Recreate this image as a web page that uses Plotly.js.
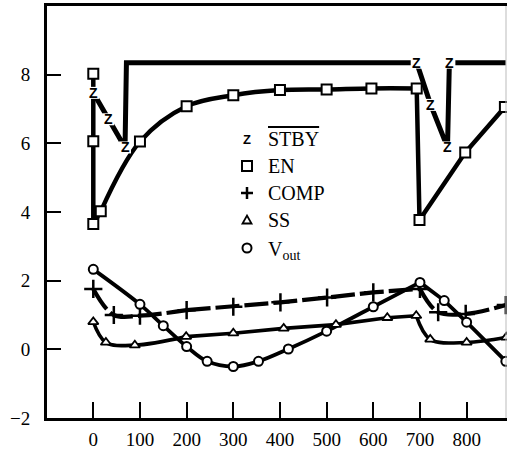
<!DOCTYPE html>
<html>
<head>
<meta charset="utf-8">
<script src="https://cdn.plot.ly/plotly-3.0.1.min.js"></script>
<style>html,body{margin:0;padding:0;background:#fff;}#chart{width:507px;height:452px;}</style>
</head>
<body>
<div id="chart"></div>
<script>
// ---- data ----
const xTickVals = [0, 100, 200, 300, 400, 500, 600, 700, 800];
const yTickVals = [-2, 0, 2, 4, 6, 8];
const yTickText = ['\u22122', '0', '2', '4', '6', '8'];

const stbyX = [0, 32, 68, 71, 693, 723, 759, 763, 884];
const stbyY = [7.47, 6.70, 5.88, 8.35, 8.35, 7.12, 5.88, 8.35, 8.35];
const stbyMarkIdx = [0, 1, 2, 4, 5, 6, 7];

const enX = [0, 0, 0, 16, 100, 200, 300, 400, 500, 596, 693, 699, 797, 882];
const enY = [8.03, 6.06, 3.65, 4.02, 6.05, 7.08, 7.40, 7.55, 7.57, 7.60, 7.60, 3.77, 5.73, 7.06];

const compX = [0, 44, 100, 200, 300, 401, 501, 600, 700, 739, 798, 884];
const compY = [1.76, 1.00, 0.98, 1.14, 1.24, 1.37, 1.51, 1.66, 1.76, 1.08, 1.03, 1.29];

const ssX = [0, 27, 89, 199, 300, 408, 520, 630, 692, 722, 800, 885];
const ssY = [0.80, 0.20, 0.12, 0.37, 0.47, 0.61, 0.72, 0.92, 0.98, 0.29, 0.20, 0.35];

const voutX = [0, 100, 150, 200, 244, 300, 354, 418, 500, 600, 700, 752, 800, 884];
const voutY = [2.33, 1.31, 0.69, 0.08, -0.35, -0.50, -0.35, 0.01, 0.53, 1.24, 1.95, 1.42, 0.79, -0.35];

const legendNames = ['<span style="text-decoration:overline">STBY</span>', 'EN', 'COMP', 'SS', 'V<sub>out</sub>'];

// ---- rendering ----
const SERIF = 'Liberation Serif, Times New Roman, serif';
const SANS = 'Liberation Sans, Arial, sans-serif';
const traces = [];
function addLine(x, y, segs, line) {
  segs.forEach(s => {
    traces.push({
      x: x.slice(s[0], s[1] + 1), y: y.slice(s[0], s[1] + 1),
      type: 'scatter', mode: 'lines', showlegend: false, hoverinfo: 'skip',
      line: Object.assign({color: '#000', shape: s[2], smoothing: 1}, line)
    });
  });
}
addLine(stbyX, stbyY, [[0, stbyX.length - 1, 'linear']], {width: 5});
addLine(enX, enY, [[0, 3, 'linear'], [3, 10, 'spline'], [10, 13, 'linear']], {width: 4.5});
addLine(compX, compY, [[0, 3, 'spline'], [3, 8, 'linear'], [8, 11, 'spline']], {width: 4.2, dash: '24px,5px'});
addLine(ssX, ssY, [[0, 3, 'spline'], [3, 8, 'linear'], [8, 11, 'spline']], {width: 3.6});
addLine(voutX, voutY, [[0, 10, 'spline'], [10, 13, 'linear']], {width: 3.8});

function addMarkers(x, y, marker) {
  traces.push({x: x, y: y, type: 'scatter', mode: 'markers', showlegend: false, hoverinfo: 'skip', marker: marker});
}
addMarkers(enX, enY, {symbol: 'square', size: 10, color: '#fff', line: {color: '#000', width: 2}});
addMarkers(compX, compY, {symbol: 'cross-thin-open', size: 13, color: '#000', line: {color: '#000', width: 2.5}});
addMarkers(ssX, ssY, {symbol: 'triangle-up', size: 9, color: '#fff', line: {color: '#000', width: 1.8}});
addMarkers(voutX, voutY, {symbol: 'circle', size: 9, color: '#fff', line: {color: '#000', width: 2}});

// STBY "Z" markers (white box behind a bold Z glyph)
const zTrace = {
  x: stbyMarkIdx.map(i => stbyX[i]), y: stbyMarkIdx.map(i => stbyY[i]),
  type: 'scatter', mode: 'markers', showlegend: false, hoverinfo: 'skip',
  marker: {symbol: 'square', size: 12, color: '#fff', line: {width: 0}}
};
traces.push(zTrace);

// ---- custom legend (keys + labels) ----
const plotL = 47, plotT = 6, plotW = 460, plotH = 412;
const px2x = px => (px - plotL) / plotW;
const px2y = py => (plotT + plotH - py) / plotH;
const keyX = px2x(247), labX = px2x(266);
const rowY = [139, 166, 193, 220, 248].map(px2y);

const annotations = legendNames.map((t, i) => ({
  xref: 'paper', yref: 'paper', x: labX, y: rowY[i] - (i === 4 ? 0.006 : 0), xanchor: 'left', yanchor: 'middle',
  text: t, showarrow: false, font: {family: SERIF, size: 20, color: '#000'}
}));
// Z glyphs on the STBY line, placed through the data axes
stbyMarkIdx.forEach(i => annotations.push({
  xref: 'x', yref: 'y', x: stbyX[i], y: stbyY[i], xanchor: 'center', yanchor: 'middle',
  text: '<b>Z</b>', showarrow: false, borderpad: 0,
  font: {family: SANS, size: 14, color: '#000'}
}));
annotations.push({
  xref: 'paper', yref: 'paper', x: keyX, y: rowY[0], xanchor: 'center', yanchor: 'middle',
  text: '<b>Z</b>', showarrow: false, borderpad: 0, font: {family: SANS, size: 13, color: '#000'}
});

function pxShape(type, i, extra) {
  return Object.assign({
    type: type, xref: 'paper', yref: 'paper', xsizemode: 'pixel', ysizemode: 'pixel',
    xanchor: keyX, yanchor: rowY[i], line: {color: '#000', width: 2}
  }, extra);
}
const shapes = [
  pxShape('rect', 1, {x0: -5, x1: 5, y0: -5, y1: 5, fillcolor: '#fff'}),
  pxShape('path', 2, {path: 'M-6,0H6M0,-6V6', line: {color: '#000', width: 2.5}}),
  pxShape('path', 3, {path: 'M-4.5,-3.5L4.5,-3.5L0,4.5Z', fillcolor: '#fff', line: {color: '#000', width: 1.8}}),
  pxShape('circle', 4, {x0: -4.5, x1: 4.5, y0: -4.5, y1: 4.5, fillcolor: '#fff'}),
  {type: 'line', xref: 'paper', yref: 'paper', x0: px2x(506), x1: px2x(506), y0: 0, y1: 1, line: {color: '#bbb', width: 1}}
];

const layout = {
  width: 507, height: 452,
  margin: {l: plotL, r: 0, t: plotT, b: 34, pad: 0},
  paper_bgcolor: '#fff', plot_bgcolor: '#fff',
  showlegend: false,
  xaxis: {
    range: [-99.2, 886.5], tickmode: 'array', tickvals: xTickVals,
    ticks: 'inside', ticklen: 16, tickwidth: 2, tickcolor: '#000',
    showline: true, linewidth: 3, linecolor: '#000', mirror: true,
    showgrid: false, zeroline: false, ticklabelstandoff: 2,
    tickfont: {family: SERIF, size: 19, color: '#000'}
  },
  yaxis: {
    range: [-2, 10], tickmode: 'array', tickvals: yTickVals, ticktext: yTickText,
    ticks: 'inside', ticklen: 14, tickwidth: 2, tickcolor: '#000',
    showline: true, linewidth: 3, linecolor: '#000', mirror: false,
    showgrid: false, zeroline: false, ticklabelstandoff: 10,
    tickfont: {family: SERIF, size: 19, color: '#000'}
  },
  annotations: annotations,
  shapes: shapes
};

Plotly.newPlot('chart', traces, layout, {staticPlot: true, displayModeBar: false});
</script>
</body>
</html>
